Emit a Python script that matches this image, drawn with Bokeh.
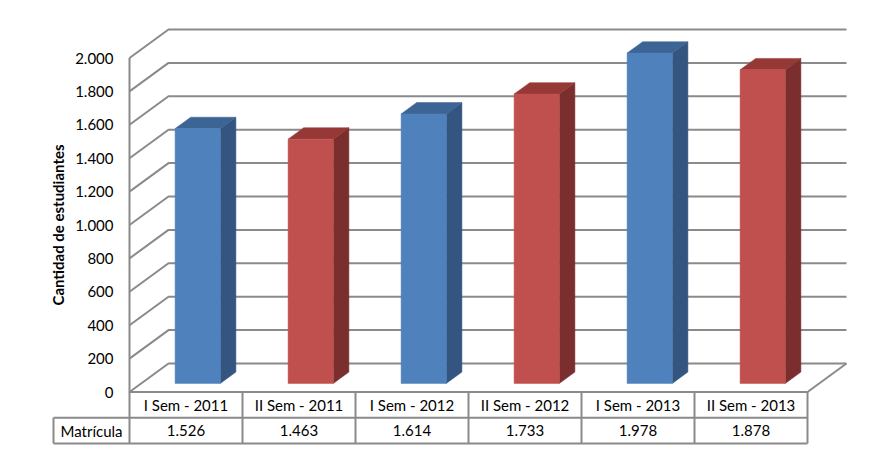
from bokeh.plotting import figure
from bokeh.models import Range1d
from bokeh.core.properties import value
from bokeh.embed import file_html
from bokeh.resources import INLINE
import math

# ---------------- data ----------------
categories = ["I Sem - 2011", "II Sem - 2011", "I Sem - 2012", "II Sem - 2012", "I Sem - 2013", "II Sem - 2013"]
matricula = [1526, 1463, 1614, 1733, 1978, 1878]
row_label = "Matrícula"
y_title = "Cantidad de estudiantes"
y_ticks = [0, 200, 400, 600, 800, 1000, 1200, 1400, 1600, 1800, 2000]

# ---------------- layout (pixels) ----------------
W, H = 885, 452
PX_PER_CAT = 113.0          # width of one category cell
PX_PER_VAL = 334.0 / 2000   # pixels per student
ORIGIN_X = 129.0            # front-left floor corner, figure px from left
ORIGIN_Y = 391.5            # front-left floor corner, figure px from top
DEPTH_PX_X, DEPTH_PX_Y = 39.0, 28.5
ROW_PX = 25.7
LABEL_PX = 76.0

U0 = -ORIGIN_X / PX_PER_CAT
U1 = U0 + W / PX_PER_CAT
V1 = ORIGIN_Y / PX_PER_VAL
V0 = V1 - H / PX_PER_VAL
DX = DEPTH_PX_X / PX_PER_CAT
DY = DEPTH_PX_Y / PX_PER_VAL
ROW = ROW_PX / PX_PER_VAL
LBL = LABEL_PX / PX_PER_CAT
N = len(categories)
VMAX = max(y_ticks)

FONT = value("Lato")
FS = "15px"
GRID = "#8A8A8A"
BLUE = ("#4F81BD", "#335580", "#3C6494")
RED = ("#C0504D", "#7A2F2E", "#953836")

p = figure(width=W, height=H, x_range=Range1d(U0, U1), y_range=Range1d(V0, V1),
           output_backend="svg", toolbar_location=None,
           x_axis_type=None, y_axis_type=None, min_border=0)
p.grid.visible = False
p.outline_line_color = None
p.background_fill_color = "white"
p.border_fill_color = "white"

# ---------------- walls / gridlines ----------------
xs, ys = [], []
for t in y_ticks:
    xs.append([0, DX, N + DX]); ys.append([t, t + DY, t + DY])
xs.append([0, 0]); ys.append([0, VMAX])
xs.append([N, N + DX]); ys.append([0, DY])
p.multi_line(xs, ys, line_color=GRID, line_width=2)

# ---------------- 3D bars ----------------
F0, F1 = 0.3, 0.7
HALF = 0.2
fx, fy, sx, sy, tx, ty, fc, sc, tc = [], [], [], [], [], [], [], [], []
for i, (c, v) in enumerate(zip(categories, matricula)):
    pal = RED if c.startswith("II") else BLUE
    cx = i + 0.5 + F0 * DX
    by = F0 * DY
    x0, x1 = cx - HALF, cx + HALF
    top = v + by
    ddx, ddy = (F1 - F0) * DX, (F1 - F0) * DY
    fx.append([x0, x1, x1, x0]); fy.append([by, by, top, top])
    sx.append([x1, x1 + ddx, x1 + ddx, x1]); sy.append([by, by + ddy, top + ddy, top])
    tx.append([x0, x1, x1 + ddx, x0 + ddx]); ty.append([top, top, top + ddy, top + ddy])
    fc.append(pal[0]); sc.append(pal[1]); tc.append(pal[2])
p.patches(sx, sy, fill_color=sc, line_color=sc, line_width=0.5)
p.patches(tx, ty, fill_color=tc, line_color=tc, line_width=0.5)
p.patches(fx, fy, fill_color=fc, line_color=fc, line_width=0.5)

# ---------------- y tick labels & title ----------------
lbls = [f"{t:,}".replace(",", ".") for t in y_ticks]
p.text(x=[0] * len(y_ticks), y=y_ticks, text=lbls, text_font=FONT, text_font_size=FS,
       text_align="right", text_baseline="middle", x_offset=-16, text_color="black")
p.text(x=[0], y=[VMAX / 2], text=[y_title], text_font=FONT, text_font_size="15px",
       text_font_style="bold", angle=math.pi / 2, text_align="center",
       text_baseline="middle", x_offset=-72, text_color="black")

# ---------------- data table ----------------
gx, gy = [], []
gx.append([0, N]); gy.append([0, 0])
gx.append([-LBL, N]); gy.append([-ROW, -ROW])
gx.append([-LBL, N]); gy.append([-2 * ROW, -2 * ROW])
for k in range(N + 1):
    gx.append([k, k]); gy.append([0, -2 * ROW])
gx.append([-LBL, -LBL]); gy.append([-ROW, -2 * ROW])
p.multi_line(gx, gy, line_color=GRID, line_width=2)

centers = [i + 0.5 for i in range(N)]
p.text(x=centers, y=[-ROW / 2] * N, text=categories, text_font=FONT, text_font_size=FS,
       text_align="center", text_baseline="middle", text_color="black")
vals = [f"{v:,}".replace(",", ".") for v in matricula]
p.text(x=centers, y=[-1.5 * ROW] * N, text=vals, text_font=FONT, text_font_size=FS,
       text_align="center", text_baseline="middle", text_color="black")
p.text(x=[-LBL / 2], y=[-1.5 * ROW], text=[row_label], text_font=FONT, text_font_size=FS,
       text_align="center", text_baseline="middle", text_color="black")

open("out.html", "w").write(file_html(p, INLINE))
